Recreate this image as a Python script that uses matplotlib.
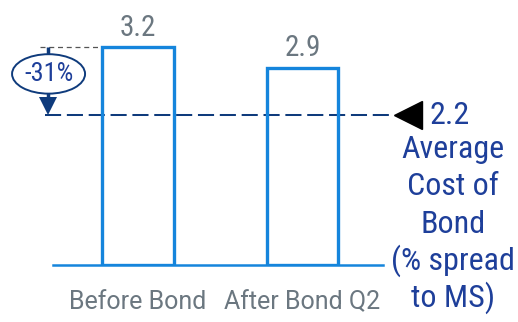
import matplotlib
matplotlib.use("Agg")
import matplotlib.pyplot as plt
from matplotlib import font_manager as fm
from matplotlib.patches import Ellipse
import matplotlib.transforms as mtrans

categories = ["Before Bond", "After Bond Q2"]
values = [3.2, 2.9]
average_cost = 2.2
change_label = "-31%"
side_lines = ["Average", "Cost of", "Bond", "(% spread", "to MS)"]

names = {f.name for f in fm.fontManager.ttflist}
cond = next((n for n in ["Roboto Condensed", "Liberation Sans Narrow", "Open Sans Condensed"] if n in names), None)
FONT = "Roboto"
CFONT = cond if cond else "Roboto"
big = 23 if cond else 20
valsize = 21 if cond else 18.5

BAR_BLUE = "#1585dc"
NAVY = "#1e3f9a"
NAVY_LINE = "#0f3b7c"
GRAY = "#6b7780"

W, H = 518, 322
fig = plt.figure(figsize=(W / 100, H / 100), dpi=100)
ax = fig.add_axes([53 / W, 57 / H, 330 / W, 238 / H])
ax.set_xlim(-0.517, 1.490)
ax.set_ylim(0, 3.5)

x = list(range(len(categories)))
bw = 0.435
ax.bar(x, values, width=bw, facecolor="none", edgecolor=BAR_BLUE, linewidth=2.4, zorder=3)
for s in ["top", "right", "left"]:
    ax.spines[s].set_visible(False)
ax.spines["bottom"].set_color(BAR_BLUE)
ax.spines["bottom"].set_linewidth(1.8)
ax.set_yticks([])
ax.set_xticks(x)
ax.set_xticklabels(categories, fontsize=18, color=GRAY, family=FONT)
ax.tick_params(axis="x", length=0, pad=18)

for xi, v in zip(x, values):
    ax.annotate(f"{v:.1f}", (xi, v), xytext=(0, 8.5), textcoords="offset points",
                ha="center", va="baseline", fontsize=valsize, color=GRAY, family=CFONT)

# gray dashed reference at first bar top
ax.plot([-0.596, x[0] - bw / 2], [values[0], values[0]], ls=(0, (4, 3)), color="#555555",
        lw=0.9, clip_on=False, zorder=2)
# average dashed line
ax.plot([-0.566, 1.545], [average_cost, average_cost], ls=(0, (8, 2.85)), color=NAVY_LINE,
        lw=1.45, clip_on=False, zorder=2)
# triangle marker
ax.plot([1.642], [average_cost], marker="<", ms=20, color="black", clip_on=False)
ax.text(1.898, average_cost, f"{average_cost:.1f}", ha="center", va="center",
        fontsize=big, color=NAVY, family=CFONT, clip_on=False)

# side label lines (pixel positions from top-left)
to_fig = mtrans.Affine2D().scale(1, -1).translate(0, H) + mtrans.Affine2D().scale(1 / W, 1 / H) + fig.transFigure
baselines = [158, 195, 232.5, 270, 307]
for line, yb in zip(side_lines, baselines):
    fig.text(453, yb, line, ha="center", va="baseline", fontsize=big, color=NAVY,
             family=CFONT, transform=to_fig)

# percentage change arrow and ellipse
ax_x = -0.55
ey = 2.81
eh = 0.58
head_ms = 13
head_h = head_ms * 100 / 72 / 68.0
ax.plot([ax_x, ax_x], [values[0], average_cost + head_h * 0.5], color=NAVY_LINE, lw=2.5,
        clip_on=False, solid_capstyle="butt", zorder=3)
ax.plot([ax_x], [average_cost + head_h / 2], marker="v", ms=head_ms, color=NAVY_LINE,
        markeredgewidth=0, clip_on=False, zorder=3)
ell = Ellipse((-0.544, ey), 0.444, eh, facecolor="white", edgecolor=NAVY_LINE, lw=1.4,
              clip_on=False, zorder=4)
ax.add_patch(ell)
ax.text(-0.544, ey, change_label, ha="center", va="center", fontsize=19, color=NAVY,
        family=CFONT, zorder=5, clip_on=False)

fig.savefig("out.png", dpi=100)
